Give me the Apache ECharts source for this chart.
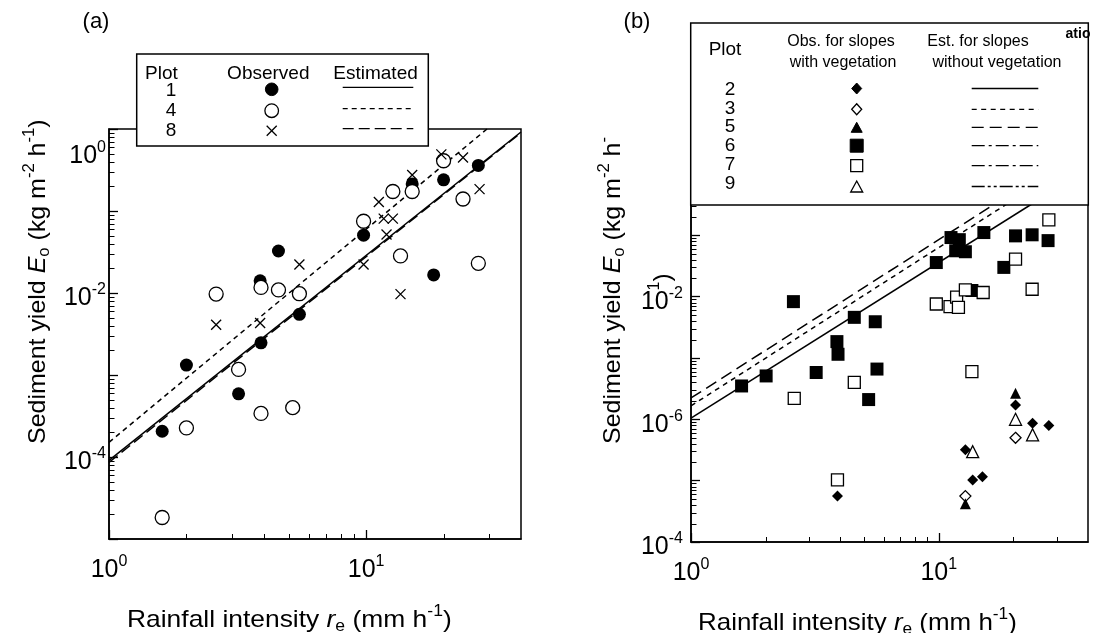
<!DOCTYPE html>
<html><head><meta charset="utf-8">
<script src="https://cdn.jsdelivr.net/npm/echarts@6/dist/echarts.min.js"></script>
<style>html,body{margin:0;padding:0;background:#fff}#c{width:1102px;height:633px}</style>
</head><body><div id="c"></div>
<script>
// ===== Panel (a): rainfall intensity r_e (mm/h) vs sediment yield E_o (kg m-2 h-1)
const plotsA = ['1', '4', '8'];
const plot1Obs = [[1.61,2.06e-4],[2.00,1.32e-3],[3.19,5.9e-4],[3.90,2.47e-3],[3.87,0.0141],[4.56,0.0325],[5.50,5.5e-3],[9.77,0.0507],[15.1,0.214],[18.3,0.0166],[20.0,0.24],[27.3,0.36]];
const plot4Obs = [[1.61,1.83e-5],[2.00,2.26e-4],[2.61,9.7e-3],[3.19,1.17e-3],[3.90,3.4e-4],[3.90,0.0117],[4.56,0.0109],[5.18,4.0e-4],[5.50,9.8e-3],[9.77,0.075],[12.7,0.173],[13.6,0.0283],[15.1,0.173],[20.0,0.41],[23.8,0.14],[27.3,0.023]];
const plot8Obs = [[2.61,4.1e-3],[3.87,4.3e-3],[5.50,0.0223],[9.77,0.0223],[11.2,0.129],[11.7,0.0807],[12.7,0.0807],[12.0,0.0516],[13.6,9.7e-3],[15.1,0.275],[19.6,0.49],[23.8,0.45],[27.6,0.185]];
const plot1Est = [[1,9.1e-5],[40,0.92]];
const plot4Est = [[1,1.51e-4],[29.5,1.0]];
const plot8Est = [[1,8.6e-5],[40,0.90]];

// ===== Panel (b)
const plotsB = ['2', '3', '5', '6', '7', '9'];
const plot2Obs = [[3.90,5.6e-6],[12.8,3.2e-5],[13.7,1.03e-5],[15.0,1.16e-5],[20.4,1.72e-4],[23.9,8.6e-5],[27.8,7.9e-5]];
const plot3Obs = [[12.8,5.6e-6],[20.4,5.0e-5]];
const plot5Obs = [[20.4,2.67e-4],[12.8,4.2e-6]];
const plot6Obs = [[2.59,8.3e-3],[4.56,4.6e-3],[5.54,3.9e-3],[3.88,1.85e-3],[3.92,1.15e-3],[9.77,0.036],[11.2,0.092],[12.1,0.085],[11.7,0.056],[12.8,0.054],[15.2,0.111],[18.3,0.030],[20.4,0.098],[23.8,0.102],[27.6,0.082],[13.6,0.0126],[1.60,3.5e-4],[2.01,5.1e-4],[3.20,5.8e-4],[5.63,6.6e-4],[5.21,2.1e-4]];
const plot7Obs = [[27.8,0.179],[20.4,0.041],[23.8,0.0132],[9.77,7.6e-3],[11.1,6.9e-3],[11.8,9.8e-3],[12.0,6.7e-3],[12.8,0.0129],[15.1,0.0117],[13.6,6.0e-4],[2.61,2.2e-4],[4.56,4.0e-4],[3.90,1.03e-5]];
const plot9Obs = [[13.7,2.97e-5],[20.4,1.0e-4],[23.9,5.6e-5]];
const plot2Est = [[1,1.05e-4],[37,1.0]];
const plot3Est = [[1,1.66e-4],[29,0.99]];
const plot5Est = [[1,2.23e-4],[26,1.0]];

// ===== Axes
const xRange = [1, 40];
const yRangeA = [1e-5, 1];
const yRangeB = [1e-6, 1];
const xLabelExp = [0, 1];
const yLabelExpA = [0, -2, -4];
const yLabelExpB = [-2, -4, -6];
const yLabelTextB = ['-2', '-6', '-4']; // exponents as printed in the figure

const lg = Math.log10;
const FONT = '"Liberation Sans", Arial, Helvetica, sans-serif';
function majors(r) { const a = []; for (let e = Math.ceil(lg(r[0]) - 1e-9); e <= Math.floor(lg(r[1]) + 1e-9); e++) a.push(e); return a; }
function minors(r) { const a = []; for (let e = Math.floor(lg(r[0])); e <= Math.ceil(lg(r[1])); e++) { for (let m = 2; m <= 9; m++) { const v = m * Math.pow(10, e); if (v > r[0] * 1.0001 && v < r[1] * 0.9999) a.push(lg(v)); } } return a; }
const toLog = pts => pts.map(p => [lg(p[0]), lg(p[1])]);

const tickRich = {
  b: {fontSize: 25, fontFamily: FONT, color: '#000', lineHeight: 26, padding: [6, 0, 0, 0], verticalAlign: 'top'},
  s: {fontSize: 16, fontFamily: FONT, color: '#000', lineHeight: 16, padding: [2, 0, 0, 0], verticalAlign: 'top'},
  bT: {fontSize: 25, fontFamily: FONT, color: '#000', lineHeight: 26, padding: [28, 0, 0, 0], verticalAlign: 'top'},
  sT: {fontSize: 16, fontFamily: FONT, color: '#000', lineHeight: 16, padding: [24, 0, 0, 0], verticalAlign: 'top'}
};
const AX = {color: '#000', width: 1.5};
const GRIDS = [
  {left: 109, top: 129, width: 412, height: 410},
  {left: 691, top: 174, width: 397, height: 368}
];

function xAxis(grid) {
  return {type: 'value', gridIndex: grid, position: 'bottom', min: lg(xRange[0]), max: lg(xRange[1]), splitLine: {show: false},
    axisLine: {show: true, onZero: false, lineStyle: AX},
    axisTick: {show: true, inside: true, length: 9, customValues: majors(xRange), lineStyle: {color: '#000', width: 1.3}},
    axisLabel: {show: true, customValues: xLabelExp, margin: 13, formatter: v => '{b|10}{s|' + Math.round(v) + '}', rich: tickRich}};
}
function yAxis(grid, range, labelVals, fmt, margin) {
  return {type: 'value', gridIndex: grid, position: 'left', min: lg(range[0]), max: lg(range[1]), splitLine: {show: false},
    axisLine: {show: true, onZero: false, lineStyle: AX},
    axisTick: {show: true, inside: true, length: 9, customValues: majors(range), lineStyle: {color: '#000', width: 1.3}},
    axisLabel: {show: true, customValues: labelVals, margin: margin, formatter: fmt, rich: tickRich}};
}
// minor x ticks placed through the axes' own scales
function minorTicksX(grid, yRange) {
  const y0 = lg(yRange[0]);
  return {type: 'custom', xAxisIndex: grid, yAxisIndex: grid, silent: true, z: 4, clip: false,
    data: minors(xRange).map(v => [v, y0]),
    renderItem: (params, api) => {
      const p = api.coord([api.value(0), api.value(1)]);
      const x = Math.round(p[0]) + 0.5;
      return {type: 'line', shape: {x1: x, y1: p[1], x2: x, y2: p[1] - 5}, style: {stroke: '#000', lineWidth: 1}};
    }};
}

const fmtA = v => { const e = Math.round(v); return e === 0 ? '{bT|10}{sT|0}' : '{b|10}{s|' + e + '}'; };
const fmtB = v => { const i = yLabelExpB.indexOf(Math.round(v)); return '{b|10}{s|' + yLabelTextB[i] + '}'; };

function scat(grid, data, symbol, size, filled) {
  return {type: 'scatter', xAxisIndex: grid, yAxisIndex: grid, data: toLog(data), symbol: symbol, symbolSize: size,
    itemStyle: filled ? {color: '#000', opacity: 1} : {color: '#fff', borderColor: '#000', borderWidth: 1.3, opacity: 1}, z: 5, silent: true};
}
function fit(grid, data, type) {
  return {type: 'line', xAxisIndex: grid, yAxisIndex: grid, data: toLog(data), showSymbol: false, symbol: 'none', clip: true,
    lineStyle: {color: '#000', width: 1.5, type: type}, z: 3, silent: true};
}
const cross = 'path://M0,0L10,10M10,0L0,10';

// ---------- legend / titles (decoration)
const T = (x, y, text, size, align, weight) => ({type: 'text', x: x, y: y, z: 101,
  style: {text: text, fontSize: size, fontFamily: FONT, fontWeight: weight || 'normal', fill: '#000', align: align || 'center', textAlign: align || 'center', verticalAlign: 'middle', textVerticalAlign: 'middle'}});
const Ln = (x1, x2, y, dash) => ({type: 'line', z: 101, shape: {x1: x1, y1: y, x2: x2, y2: y}, style: {stroke: '#000', lineWidth: 1.3, lineDash: dash}});
const dia = (cx, cy, w, h) => [[cx, cy - h / 2], [cx + w / 2, cy], [cx, cy + h / 2], [cx - w / 2, cy]];
const tri = (cx, cy, w, h) => [[cx, cy - h / 2], [cx + w / 2, cy + h / 2], [cx - w / 2, cy + h / 2]];
const FILL = {fill: '#000', stroke: '#000', lineWidth: 1};
const OPEN = {fill: '#fff', stroke: '#000', lineWidth: 1.3};

const rowsA = [91, 111, 131];
const rowsAsym = [89.3, 110.7, 130.7];
const dashA = [null, [5, 4], [11, 5]];
const rowsBtxt = [90, 108.5, 127, 145.5, 165, 183.5];
const rowsBsym = [88.5, 109.3, 127.3, 145.7, 165.7, 186.5];
const dashB = [null, [5, 4.5], [12, 6], [13, 4, 3, 4], [13, 4, 3, 4], [13, 3, 3, 3, 3, 3]];

const titleRich = {
  n: {fontSize: 24, fontFamily: FONT, fill: '#000', color: '#000', lineHeight: 26, padding: [4, 0, 0, 0], verticalAlign: 'top'},
  i: {fontSize: 24, fontFamily: FONT, fontStyle: 'italic', fill: '#000', color: '#000', lineHeight: 26, padding: [4, 0, 0, 0], verticalAlign: 'top'},
  sup: {fontSize: 16, fontFamily: FONT, fill: '#000', color: '#000', lineHeight: 16, verticalAlign: 'top'},
  sub: {fontSize: 16, fontFamily: FONT, fill: '#000', color: '#000', lineHeight: 16, padding: [15, 0, 0, 0], verticalAlign: 'top'}
};
const RT = (x, y, text, align, rot, sx) => ({type: 'text', x: x, y: y, rotation: rot || 0, scaleX: sx || 1, z: 101,
  style: {text: text, rich: titleRich, fill: '#000', fontSize: 24, fontFamily: FONT, align: align, textAlign: align, verticalAlign: 'middle', textVerticalAlign: 'middle'}});

const graphics = [
  T(96, 22, '(a)', 22), T(637, 22, '(b)', 22),
  RT(127, 617, '{n|Rainfall intensity }{i|r}{sub|e}{n| (mm h}{sup|-1}{n|)}', 'left', 0, 1.1),
  RT(698, 620, '{n|Rainfall intensity }{i|r}{sub|e}{n| (mm h}{sup|-1}{n|)}', 'left', 0, 1.08),
  RT(35, 444, '{n|Sediment yield }{i|E}{sub|o}{n| (kg m}{sup|-2}{n| h}{sup|-1}{n|)}', 'left', Math.PI / 2, 1.04),
  RT(610, 444, '{n|Sediment yield }{i|E}{sub|o}{n| (kg m}{sup|-2}{n| h}{sup|-}', 'left', Math.PI / 2, 1.04),
  RT(660, 282, '{sup|1}{n|)}', 'center', Math.PI / 2),
  // legend (a)
  {type: 'rect', z: 100, shape: {x: 136.7, y: 54, width: 291.6, height: 92}, style: {fill: '#fff', stroke: '#000', lineWidth: 1.5}},
  T(145, 73.3, 'Plot', 19, 'left'), T(268.3, 73.3, 'Observed', 19), T(333.3, 73.3, 'Estimated', 19, 'left'),
  {type: 'circle', z: 101, shape: {cx: 271.7, cy: rowsAsym[0], r: 6.3}, style: FILL},
  {type: 'circle', z: 101, shape: {cx: 271.7, cy: rowsAsym[1], r: 6.8}, style: OPEN},
  {type: 'polyline', z: 101, shape: {points: [[266.7, rowsAsym[2] - 5], [276.7, rowsAsym[2] + 5]]}, style: {stroke: '#000', lineWidth: 1.3}},
  {type: 'polyline', z: 101, shape: {points: [[276.7, rowsAsym[2] - 5], [266.7, rowsAsym[2] + 5]]}, style: {stroke: '#000', lineWidth: 1.3}},
  // legend (b)
  {type: 'rect', z: 100, shape: {x: 690.7, y: 23, width: 397.6, height: 182}, style: {fill: '#fff', stroke: '#000', lineWidth: 1.5}},
  T(725, 50, 'Plot', 19), T(841, 42, 'Obs. for slopes', 16), T(843, 63, 'with vegetation', 16),
  T(978, 42, 'Est. for slopes', 16), T(997, 63, 'without vegetation', 16),
  T(1078, 34, 'atio', 14, 'center', 'bold'),
  {type: 'polygon', z: 101, shape: {points: dia(856.7, rowsBsym[0], 10, 11)}, style: FILL},
  {type: 'polygon', z: 101, shape: {points: dia(856.7, rowsBsym[1], 10, 11)}, style: OPEN},
  {type: 'polygon', z: 101, shape: {points: tri(856.7, rowsBsym[2], 11, 10)}, style: FILL},
  {type: 'rect', z: 101, shape: {x: 850.2, y: rowsBsym[3] - 6.5, width: 13, height: 13}, style: FILL},
  {type: 'rect', z: 101, shape: {x: 850.7, y: rowsBsym[4] - 6, width: 12, height: 12}, style: OPEN},
  {type: 'polygon', z: 101, shape: {points: tri(856.7, rowsBsym[5], 12, 11)}, style: OPEN}
];
plotsA.forEach((p, k) => { graphics.push(T(171, rowsA[k], p, 19)); graphics.push(Ln(342.7, 413.3, rowsAsym[k] - 2, dashA[k])); });
plotsB.forEach((p, k) => { graphics.push(T(730, rowsBtxt[k], p, 19)); graphics.push(Ln(971.7, 1038.3, rowsBsym[k], dashB[k])); });

const option = {
  animation: false,
  backgroundColor: '#fff',
  grid: GRIDS.map(g => Object.assign({show: true, borderColor: '#000', borderWidth: 1.5, backgroundColor: 'transparent', containLabel: false, outerBoundsMode: 'none'}, g)),
  xAxis: [xAxis(0), xAxis(1)],
  yAxis: [yAxis(0, yRangeA, yLabelExpA, fmtA, 3), yAxis(1, yRangeB, yLabelExpB, fmtB, 8)],
  series: [
    minorTicksX(0, yRangeA), minorTicksX(1, yRangeB),
    fit(0, plot1Est, 'solid'), fit(0, plot4Est, [5, 4]), fit(0, plot8Est, [11, 5]),
    scat(0, plot1Obs, 'circle', 13, true), scat(0, plot4Obs, 'circle', 14, false),
    {type: 'scatter', xAxisIndex: 0, yAxisIndex: 0, data: toLog(plot8Obs), symbol: cross, symbolSize: 10,
      itemStyle: {color: 'none', borderColor: '#000', borderWidth: 1.3, opacity: 1}, z: 5, silent: true},
    fit(1, plot2Est, 'solid'), fit(1, plot3Est, [5, 4.5]), fit(1, plot5Est, [12, 6]),
    scat(1, plot6Obs, 'rect', 13, true), scat(1, plot7Obs, 'rect', 12, false),
    scat(1, plot2Obs, 'diamond', 11, true), scat(1, plot3Obs, 'diamond', 11, false),
    scat(1, plot5Obs, 'triangle', 11, true), scat(1, plot9Obs, 'triangle', 12, false)
  ],
  graphic: {elements: graphics}
};
const chart = echarts.init(document.getElementById('c'), null, {renderer: 'canvas'});
chart.setOption(option);

// minor y ticks: positions obtained from the library's own y scales (crisp, under the legend boxes)
const yMinorEls = [];
[[0, yRangeA], [1, yRangeB]].forEach(([g, yr]) => {
  minors(yr).forEach(v => {
    const p = chart.convertToPixel({xAxisIndex: g, yAxisIndex: g}, [lg(xRange[0]), v]);
    if (p && isFinite(p[0]) && isFinite(p[1])) {
      const y = Math.round(p[1]) + 0.5;
      yMinorEls.push({type: 'line', z: 50, silent: true, shape: {x1: p[0], y1: y, x2: p[0] + 5.5, y2: y}, style: {stroke: '#000', lineWidth: 1}});
    }
  });
});
chart.setOption({graphic: {elements: graphics.concat(yMinorEls)}});
</script></body></html>
